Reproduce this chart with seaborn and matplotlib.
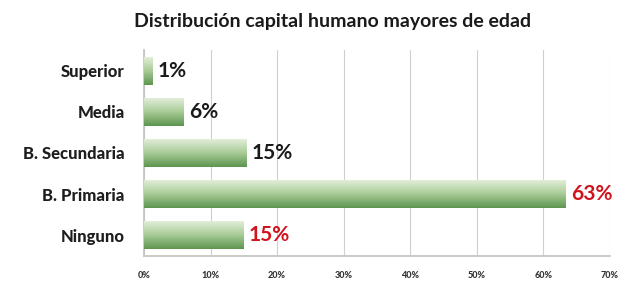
import numpy as np
import pandas as pd
import matplotlib
matplotlib.use("Agg")
import matplotlib.pyplot as plt
import seaborn as sns
from matplotlib.colors import LinearSegmentedColormap

categories = ["Superior", "Media", "B. Secundaria", "B. Primaria", "Ninguno"]
values = [1.3, 6.0, 15.4, 63.3, 14.9]
label_colors = ["#1a1a1a", "#1a1a1a", "#1a1a1a", "#d0141e", "#d0141e"]
xticks = [0, 10, 20, 30, 40, 50, 60, 70]
title = "Distribución capital humano mayores de edad"

sns.set_theme(style="white")
plt.rcParams['font.family'] = ['Lato', 'DejaVu Sans']

df = pd.DataFrame({"cat": categories, "val": values})

fig = plt.figure(figsize=(6.4, 2.84), dpi=100)
ax = fig.add_axes([0.225, 0.099, 0.728, 0.725])

sns.barplot(data=df, x="val", y="cat", orient="h", ax=ax, width=0.68,
            color="#7fae6f", edgecolor="none", zorder=2)

ax.set_xlim(0, 70)
ax.set_xticks(xticks)
ax.set_xticklabels([f"{t}%" for t in xticks], fontsize=6.5, fontweight="black", color="#333333")
ax.set_xlabel("")
ax.set_ylabel("")
ax.grid(axis="x", color="#cfcfcf", linewidth=0.8, zorder=0)
ax.set_axisbelow(True)
for s in ["top", "right"]:
    ax.spines[s].set_visible(False)
ax.spines["left"].set_color("#c4c4c4")
ax.spines["bottom"].set_color("#c4c4c4")
ax.tick_params(axis="y", labelsize=12, length=0, pad=14)
ax.tick_params(axis="x", length=3, color="#c4c4c4", pad=8)
for lab in ax.get_yticklabels():
    lab.set_fontweight("black")
    lab.set_color("#1e1e1e")

# gradient fill inside each bar (light top -> dark green bottom)
cmap = LinearSegmentedColormap.from_list("g", ["#e6f0dc", "#a9cc98", "#5e9650"])
grad = np.linspace(0, 1, 64).reshape(-1, 1)
for p in ax.patches:
    x0, y0 = p.get_x(), p.get_y()
    w, h = p.get_width(), p.get_height()
    im = ax.imshow(grad[::-1], cmap=cmap, aspect="auto", extent=[x0, x0 + w, y0, y0 + h],
                   origin="upper", zorder=3)
    im.set_clip_path(p)
    p.set_alpha(0)

ax.set_ylim(4.5, -0.5)

for i, (v, c) in enumerate(zip(values, label_colors)):
    ax.text(v + 0.8, i, f"{round(v)}%", va="center", ha="left",
            fontsize=15, fontweight="bold", color=c, zorder=4)

fig.text(0.52, 0.925, title, ha="center", va="center", fontsize=14,
         fontweight="bold", color="#1a1a1a")

fig.savefig("out.png", dpi=100)
